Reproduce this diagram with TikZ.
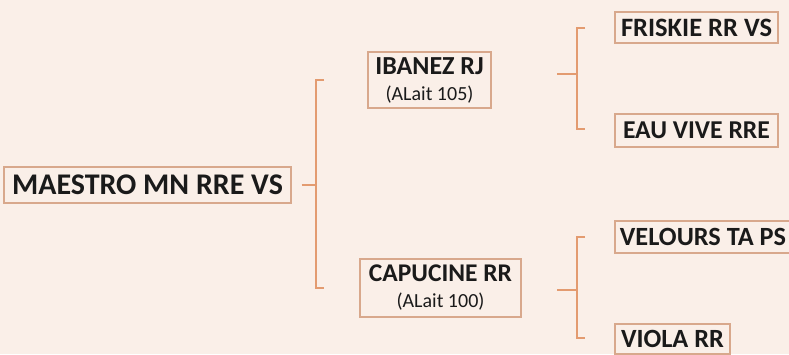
\documentclass[tikz,border=0pt]{standalone}
\usepackage{fontspec}
\setmainfont{Carlito}
\definecolor{bg}{HTML}{FAEFE8}
\definecolor{boxline}{HTML}{D8A88C}
\definecolor{brline}{HTML}{E39B70}
\definecolor{txt}{HTML}{1A1A1A}
\begin{document}
\begin{tikzpicture}[x=1pt,y=-1pt,
  lbox/.style={draw=boxline,line width=1.3pt,fill=bg,inner sep=0pt,text=txt,font=\fontsize{26.3}{28}\selectfont\bfseries},
  sbox/.style={draw=boxline,line width=1.3pt,fill=bg,inner sep=0pt,text=txt,align=center,font=\fontsize{20}{26}\selectfont},
  brk/.style={draw=brline,line width=2.2pt}]
\fill[bg] (0,0) rectangle (789,354);
\useasboundingbox (0,0) rectangle (789,354);
% nodes
\node[lbox,minimum width=287pt,minimum height=36pt,font=\fontsize{30}{32}\selectfont\bfseries] (m) at (147.5,185) {MAESTRO MN RRE VS};
\node[sbox,minimum width=123pt,minimum height=56pt] (ib) at (429.5,80)
  {{\fontsize{26}{26}\selectfont\bfseries IBANEZ RJ}\\{(ALait 105)}};
\node[sbox,minimum width=161pt,minimum height=58pt] (ca) at (440.5,288)
  {{\fontsize{25.5}{26}\selectfont\bfseries CAPUCINE RR}\\{(ALait 100)}};
\node[lbox,minimum width=163pt,minimum height=31pt,font=\fontsize{26.5}{28}\selectfont\bfseries] (fr) at (696.5,27.5) {FRISKIE RR VS};
\node[lbox,minimum width=163pt,minimum height=33pt,font=\fontsize{25.7}{28}\selectfont\bfseries] (ea) at (696.5,130.5) {EAU VIVE RRE};
\node[lbox,minimum width=176pt,minimum height=32pt] (ve) at (703,237) {VELOURS TA PS};
\node[lbox,minimum width=115pt,minimum height=30pt] (vi) at (672.5,339) {VIOLA RR};
% bracket coordinates
\coordinate (b1m) at (316,185);
\coordinate (b1t) at (316,80);
\coordinate (b1b) at (316,288);
\coordinate (b2m) at (577,74);
\coordinate (b2t) at (577,28);
\coordinate (b2b) at (577,129);
\coordinate (b3m) at (577,290);
\coordinate (b3t) at (577,237);
\coordinate (b3b) at (577,338);
% brackets
\draw[brk] ([xshift=10pt]m.east) -- (b1m);
\draw[brk] ([xshift=8pt]b1t) -- (b1t) -- (b1b) -- ([xshift=8pt]b1b);
\draw[brk] ([xshift=-20pt]b2m) -- (b2m);
\draw[brk] ([xshift=8pt]b2t) -- (b2t) -- (b2b) -- ([xshift=8pt]b2b);
\draw[brk] ([xshift=-20pt]b3m) -- (b3m);
\draw[brk] ([xshift=8pt]b3t) -- (b3t) -- (b3b) -- ([xshift=8pt]b3b);
\end{tikzpicture}
\end{document}
